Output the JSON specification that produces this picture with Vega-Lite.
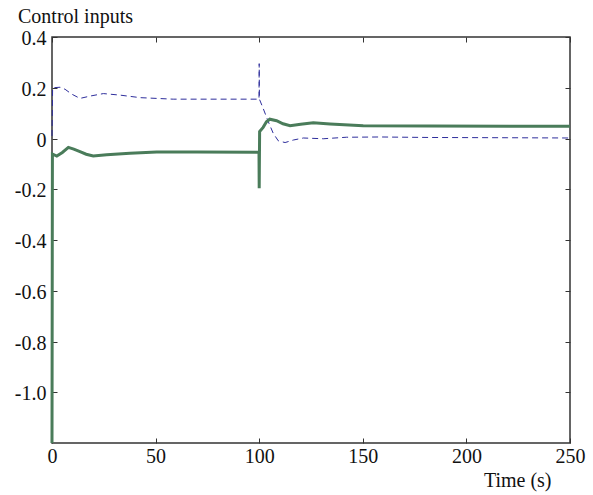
{
  "$schema": "https://vega.github.io/schema/vega-lite/v6.json",
  "width": 518,
  "height": 406,
  "autosize": {"type": "none"},
  "padding": {"left": 52, "top": 37, "right": 23, "bottom": 52},
  "background": "white",
  "title": {
    "text": "Control inputs",
    "anchor": "start",
    "frame": "group",
    "dx": -34,
    "offset": 2,
    "font": "Liberation Serif",
    "fontSize": 20,
    "fontWeight": "normal",
    "color": "#111"
  },
  "config": {
    "view": {"stroke": "#333", "strokeWidth": 1.5},
    "axis": {
      "labelFont": "Liberation Serif",
      "labelFontSize": 20,
      "labelColor": "#111",
      "titleFont": "Liberation Serif",
      "titleFontSize": 20,
      "titleFontWeight": "normal",
      "titleColor": "#111",
      "domain": false,
      "offset": -5,
      "tickColor": "#333",
      "tickSize": 5,
      "grid": false
    }
  },
  "datasets": {
    "blue": [
      {"t": 0, "v": 0.01},
      {"t": 0.3, "v": 0.2},
      {"t": 3.9, "v": 0.202},
      {"t": 6.3, "v": 0.194},
      {"t": 9.5, "v": 0.175},
      {"t": 13.5, "v": 0.158},
      {"t": 18.3, "v": 0.167},
      {"t": 24.8, "v": 0.177},
      {"t": 32.8, "v": 0.171},
      {"t": 42.5, "v": 0.161},
      {"t": 58.5, "v": 0.155},
      {"t": 75, "v": 0.155},
      {"t": 99.9, "v": 0.155},
      {"t": 100, "v": 0.295},
      {"t": 100.1, "v": 0.155},
      {"t": 101.9, "v": 0.119},
      {"t": 104.4, "v": 0.066},
      {"t": 106.8, "v": 0.02},
      {"t": 109.2, "v": -0.009},
      {"t": 112.5, "v": -0.016},
      {"t": 116.5, "v": -0.006},
      {"t": 121.3, "v": 0.002},
      {"t": 130.9, "v": -0.001},
      {"t": 142.2, "v": 0.005},
      {"t": 158.3, "v": 0.006},
      {"t": 182.4, "v": 0.004},
      {"t": 220, "v": 0.003},
      {"t": 250, "v": 0.002}
    ],
    "green": [
      {"t": 0, "v": -1.2},
      {"t": 0.2, "v": -0.061},
      {"t": 2.3, "v": -0.069},
      {"t": 5, "v": -0.055},
      {"t": 7.9, "v": -0.035},
      {"t": 10.5, "v": -0.042},
      {"t": 13.5, "v": -0.052},
      {"t": 16.5, "v": -0.062},
      {"t": 19.9, "v": -0.069},
      {"t": 26.4, "v": -0.064},
      {"t": 37.6, "v": -0.058},
      {"t": 50.5, "v": -0.053},
      {"t": 70, "v": -0.053},
      {"t": 99.9, "v": -0.054},
      {"t": 100, "v": -0.196},
      {"t": 100.2, "v": 0.027},
      {"t": 101.9, "v": 0.044},
      {"t": 103.5, "v": 0.066},
      {"t": 105.1, "v": 0.076},
      {"t": 108.4, "v": 0.07},
      {"t": 111.5, "v": 0.058},
      {"t": 114.9, "v": 0.05},
      {"t": 120, "v": 0.056},
      {"t": 126.1, "v": 0.062},
      {"t": 134.2, "v": 0.057},
      {"t": 150.2, "v": 0.05},
      {"t": 182.4, "v": 0.049},
      {"t": 250, "v": 0.048}
    ]
  },
  "layer": [
    {
      "data": {"name": "blue"},
      "mark": {"type": "line", "color": "#2e2e9c", "strokeWidth": 1, "strokeDash": [6, 4]},
      "encoding": {
        "x": {
          "field": "t", "type": "quantitative",
          "scale": {"domain": [0, 250], "nice": false, "zero": false},
          "axis": {
            "orient": "bottom",
            "values": [0, 50, 100, 150, 200, 250],
            "labelPadding": 3,
            "labelFlush": false,
            "title": "Time (s)",
            "titleAnchor": "end",
            "titleAlign": "right",
            "titleX": 499,
            "titleY": 48,
            "titleBaseline": "alphabetic"
          }
        },
        "y": {
          "field": "v", "type": "quantitative",
          "scale": {"domain": [-1.2, 0.4], "nice": false, "zero": false},
          "axis": {
            "orient": "left",
            "values": [-1.0, -0.8, -0.6, -0.4, -0.2, 0, 0.2, 0.4],
            "labelPadding": 6,
            "labelOffset": 1.5,
            "labelFlush": false,
            "title": null,
            "labelExpr": "datum.value == 0 ? '0' : (datum.value < 0 ? '-' : '') + format(abs(datum.value), '.1f')"
          }
        }
      }
    },
    {
      "data": {"name": "green"},
      "mark": {"type": "line", "color": "#4a7c5a", "strokeWidth": 3},
      "encoding": {
        "x": {
          "field": "t", "type": "quantitative",
          "axis": {"orient": "top", "values": [0, 50, 100, 150, 200, 250], "labels": false, "title": null}
        },
        "y": {
          "field": "v", "type": "quantitative",
          "axis": {"orient": "right", "values": [-1.0, -0.8, -0.6, -0.4, -0.2, 0, 0.2, 0.4], "labels": false, "title": null}
        }
      }
    }
  ],
  "resolve": {"axis": {"x": "independent", "y": "independent"}}
}
